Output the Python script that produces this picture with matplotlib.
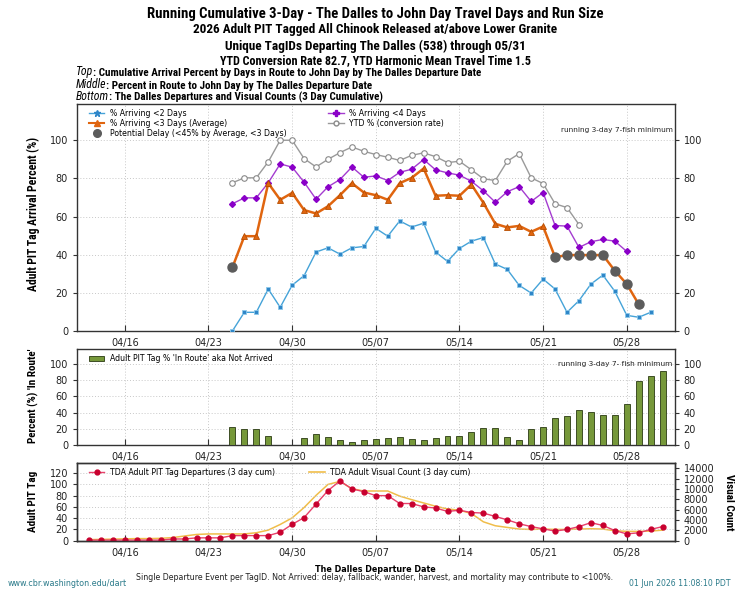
import os
import matplotlib
matplotlib.use('Agg')
import matplotlib.pyplot as plt
from matplotlib import font_manager
from matplotlib.font_manager import FontProperties
from matplotlib.lines import Line2D
from matplotlib.patches import Patch
import numpy as np
import pandas as pd

# ---------------- data ----------------
top_start = '2026-04-25'
pct_lt2 = [0, 9.8, 9.8, 22, 12.4, 24, 29, 41.4, 43.6, 40.3, 43.6, 44.3, 53.8, 49.7, 57.7,
           54.5, 56.5, 41.4, 36.5, 43.3, 47.1, 49, 35.1, 32.3, 23.9, 19.9, 27.2, 22, 9.8,
           15.9, 24.6, 29.3, 20.8, 8.2, 7.2, 9.8]
pct_lt3 = [33.3, 49.7, 49.7, 77.5, 68.8, 72.4, 63.4, 61.6, 65.4, 71.2, 77.5, 72.6, 71.2, 68.8, 77.5,
           80.3, 85.2, 70.9, 71.2, 70.9, 76.8, 67.2, 56.2, 54.3, 55.1, 52, 54.8, 38.7, 39.8,
           39.8, 39.8, 39.8, 31.6, 24.6, 14]
pct_lt4 = [66.7, 69.8, 69.8, 77.7, 87.6, 85.9, 78, 69.1, 75.6, 79.4, 86, 80.6, 81.3, 78.9, 83.2,
           84.8, 89.9, 84.5, 82.9, 81.7, 78.5, 73.5, 67.5, 73, 75.7, 67.9, 72.6, 55.3, 55,
           43.8, 46.8, 48, 47.1, 41.7]
ytd_pct = [77.7, 80.3, 80.3, 88.7, 100, 100, 90.4, 86, 90, 93.5, 96.5, 94.2, 92.5, 91.1, 89.4,
           92.1, 93.4, 91.4, 88.3, 89, 84.5, 79.8, 78.9, 89, 93, 80.3, 77.3, 66.7, 64.7, 55.8]
delay_threshold = 45

inroute_start = '2026-04-25'
inroute_pct = [21.8, 19.3, 19.3, 11.1, 0, 0, 9, 13.6, 10.3, 6.6, 3.3, 5.8, 7.4, 8.2, 10.3,
               7.4, 6.6, 8.2, 11.1, 11.1, 15.6, 20.6, 20.6, 10.3, 6.6, 19.8, 22.2, 33.3, 35.4,
               43.6, 41.2, 37, 37, 50.2, 79, 85.2, 91.8]

bottom_start = '2026-04-13'
pit_departures = [1, 1, 1, 1, 1, 1, 1, 3, 3, 5, 5, 5, 9, 9, 9, 9, 15, 29,
                  41, 65, 89, 106, 92, 87, 80, 80, 66, 66, 60, 58, 52, 54, 50, 49, 43, 37,
                  30, 25, 21, 17, 20, 25, 32, 27, 18, 12, 14, 20, 25]
visual_count = [200, 250, 300, 350, 400, 400, 450, 600, 900, 1200, 1300, 1300, 1300, 1300,
                1530, 2040, 3130, 4400,
                6400, 8750, 10860, 11440, 10030, 9590, 9590, 9590, 8600, 7920, 7280, 6650,
                6130, 5880, 5240, 3640, 2880, 2560, 2240, 2170, 2240, 2170, 2170, 2240, 2300,
                2240, 1920, 1790, 1790, 1850, 2040]

xtick_labels = ['04/16', '04/23', '04/30', '05/07', '05/14', '05/21', '05/28']
year = 2026
x_range = ('2026-04-12', '2026-06-01')

# ---------------- fonts ----------------
plt.rcParams['font.family'] = ['DejaVu Sans']
_files = set(f.fname for f in font_manager.fontManager.ttflist)
try:
    _files |= set(font_manager.findSystemFonts())
except Exception:
    pass
_prefs = ['opensans', 'liberationsansnarrow', 'roboto', 'notosans', 'dejavu']

def _pick(kind):
    best = None
    for fn in _files:
        b = os.path.basename(fn).lower().replace(' ', '').replace('_', '').replace('-', '')
        if not ('condensed' in b or 'narrow' in b):
            continue
        if any(k in b for k in ('semicondensed', 'extracondensed', 'ultracondensed')):
            continue
        if not b.endswith(('.ttf', '.otf')):
            continue
        if kind == 'bold':
            if 'bold' not in b or any(k in b for k in ('semibold', 'extrabold', 'italic',
                                                       'oblique', 'light', 'ultrabold')):
                continue
        else:
            if not ('italic' in b or 'oblique' in b) or any(
                    k in b for k in ('bold', 'light', 'medium', 'semi', 'extra', 'thin', 'black')):
                continue
        rank = next((i for i, p in enumerate(_prefs) if b.startswith(p)), 99)
        if best is None or rank < best[0]:
            best = (rank, fn)
    return best[1] if best else None

_bold_f = _pick('bold')
_ital_f = _pick('italic')

def NB(size):
    if _bold_f:
        return dict(fontproperties=FontProperties(fname=_bold_f, size=size))
    return dict(fontsize=size, fontweight='bold', stretch='condensed')

def NI(size):
    if _ital_f:
        return dict(fontproperties=FontProperties(fname=_ital_f, size=size))
    return dict(fontsize=size, style='italic', stretch='condensed')

def dates_from(start, n):
    return pd.date_range(start, periods=n, freq='D')

xticks = [pd.Timestamp(f'{year}-{s[:2]}-{s[3:]}') for s in xtick_labels]
xlim = [pd.Timestamp(x_range[0]), pd.Timestamp(x_range[1])]

fig = plt.figure(figsize=(7.35, 5.9), dpi=100)
L, W = 0.1048, 0.813
ax1 = fig.add_axes([L, 0.439, W, 0.3847])
ax2 = fig.add_axes([L, 0.2458, W, 0.1622])
ax3 = fig.add_axes([L, 0.0836, W, 0.1317])
ax3r = ax3.twinx()

TICKFS = 7
for ax in (ax1, ax2, ax3, ax3r):
    for s in ax.spines.values():
        s.set_color('#333333')
        s.set_linewidth(1.0)
for ax in (ax1, ax2, ax3):
    ax.set_xlim(xlim)
    ax.set_xticks(xticks)
    ax.set_xticklabels(xtick_labels, fontsize=TICKFS, color='#222222')
    ax.tick_params(axis='x', direction='in', length=4, color='#333333', pad=5)
    ax.tick_params(axis='y', direction='out', length=3, color='#333333', labelsize=TICKFS,
                   labelcolor='#222222')
    ax.grid(True, ls=(0, (1, 2)), color='#c8c8c8', lw=0.7)
    ax.set_axisbelow(True)
for ax in (ax1, ax2):
    ax.tick_params(axis='y', right=True, labelright=True)

# ---------------- top panel ----------------
d2 = dates_from(top_start, len(pct_lt2))
d3 = dates_from(top_start, len(pct_lt3))
d4 = dates_from(top_start, len(pct_lt4))
dy = dates_from(top_start, len(ytd_pct))
lt3 = np.array(pct_lt3)
mask = lt3 < delay_threshold

ax1.plot(dy, ytd_pct, color='#9a9a9a', lw=1.0, marker='o', ms=4, mfc='white', mec='#8a8a8a',
         mew=0.8, zorder=3)
ax1.plot(d4, pct_lt4, color='#a43cd0', lw=1.0, marker='D', ms=3, mfc='#8a00c8', mec='#8a00c8',
         zorder=4)
ax1.plot(d3, pct_lt3, color='#e0650f', lw=1.8, marker='^', ms=4.5, mfc='#e0650f', mec='#b84e00',
         mew=0.6, zorder=5)
ax1.plot(d2, pct_lt2, color='#45a3d8', lw=1.0, marker='s', ms=3, mfc='#2f86c8', mec='#8cc8ea',
         mew=0.6, zorder=6)
ax1.plot(d3[mask], lt3[mask], ls='none', marker='o', ms=6.5, color='#5c5c5c', zorder=7)
ax1.set_ylim(0, 119)
ax1.set_yticks([0, 20, 40, 60, 80, 100])

h = [Line2D([], [], color='#45a3d8', lw=1, marker='*', ms=5, mfc='#2f86c8', mec='#2f86c8'),
     Line2D([], [], color='#e0650f', lw=1.5, marker='^', ms=4.5),
     Line2D([], [], ls='none', marker='o', ms=5.5, color='#5c5c5c'),
     Line2D([], [], color='#a43cd0', lw=1, marker='P', ms=4, mfc='#8a00c8', mec='#8a00c8'),
     Line2D([], [], color='#9a9a9a', lw=1, marker='o', ms=3.5, mfc='white', mec='#8a8a8a')]
lab = ['% Arriving <2 Days', '% Arriving <3 Days (Average)',
       'Potential Delay (<45% by Average, <3 Days)', '% Arriving <4 Days',
       'YTD % (conversion rate)']
ax1.legend(h, lab, loc='upper left', bbox_to_anchor=(0.012, 1.0), ncol=2, frameon=False,
           fontsize=5.6, handlelength=2.0, handletextpad=0.7, columnspacing=5.4,
           labelspacing=0.15, borderaxespad=0.2)
ax1.text(0.997, 0.885, 'running 3-day 7-fish minimum', transform=ax1.transAxes, ha='right',
         va='center', fontsize=5.3, color='#222222')

# ---------------- middle panel ----------------
dr = dates_from(inroute_start, len(inroute_pct))
ax2.bar(dr, inroute_pct, width=0.5, color='#76983a', edgecolor='#2a3a12', lw=0.6, zorder=3)
ax2.set_ylim(0, 118)
ax2.set_yticks([0, 20, 40, 60, 80, 100])
ax2.legend([Patch(facecolor='#76983a', edgecolor='#2a3a12', lw=0.6)],
           ["Adult PIT Tag % 'In Route' aka Not Arrived"], loc='upper left',
           bbox_to_anchor=(0.012, 1.0), frameon=False, fontsize=5.6, handlelength=2.0,
           handleheight=0.7, handletextpad=0.7, borderaxespad=0.2)
ax2.text(0.997, 0.85, 'running 3-day 7- fish minimum', transform=ax2.transAxes, ha='right',
         va='center', fontsize=5.3, color='#222222')

# ---------------- bottom panel ----------------
db = dates_from(bottom_start, len(pit_departures))
dv = dates_from(bottom_start, len(visual_count))
ax3r.plot(dv, visual_count, color='#f0bd4a', lw=1.1)
ax3.plot(db, pit_departures, color='#e8406a', lw=1.0, marker='o', ms=3.5, mfc='#c8002e',
         mec='#c8002e')
ax3.set_zorder(ax3r.get_zorder() + 1)
ax3.patch.set_visible(False)
ax3.set_ylim(0, 138)
ax3.set_yticks([0, 20, 40, 60, 80, 100, 120])
ax3r.set_ylim(0, 15000)
ax3r.set_yticks(range(0, 14001, 2000))
ax3r.tick_params(axis='y', direction='out', length=3, color='#333333', labelsize=TICKFS,
                 labelcolor='#222222')
ax3.legend([Line2D([], [], color='#e8406a', lw=1, marker='o', ms=3.5, mfc='#c8002e', mec='#c8002e'),
            Line2D([], [], color='#f0bd4a', lw=1.2)],
           ['TDA Adult PIT Tag Departures (3 day cum)', 'TDA Adult Visual Count (3 day cum)'],
           loc='upper left', bbox_to_anchor=(0.012, 1.0), ncol=2, frameon=False, fontsize=5.6,
           handlelength=2.0, handletextpad=0.7, columnspacing=4.4, borderaxespad=0.2)

# ---------------- labels ----------------
fig.text(33 / 735, 1 - 214 / 590, 'Adult PIT Tag Arrival Percent (%)', rotation=90, ha='center',
         va='center', **NB(8.4))
fig.text(33 / 735, 1 - 396 / 590, "Percent (%) 'In Route'", rotation=90, ha='center',
         va='center', **NB(8))
fig.text(33 / 735, 1 - 501 / 590, 'Adult PIT Tag', rotation=90, ha='center',
         va='center', **NB(8))
fig.text(729 / 735, 1 - 502 / 590, 'Visual Count', rotation=270, ha='center',
         va='center', **NB(8))

# ---------------- titles ----------------
cx = 375 / 735
fig.text(cx, 1 - 14 / 590, 'Running Cumulative 3-Day - The Dalles to John Day Travel Days and Run Size',
         ha='center', va='center', **NB(10.6))
fig.text(cx, 1 - 30 / 590, '2026 Adult PIT Tagged All Chinook Released at/above Lower Granite',
         ha='center', va='center', **NB(9.5))
fig.text(cx, 1 - 46 / 590, 'Unique TagIDs Departing The Dalles (538) through 05/31',
         ha='center', va='center', **NB(9.5))
fig.text(cx, 1 - 61 / 590, 'YTD Conversion Rate 82.7, YTD Harmonic Mean Travel Time 1.5',
         ha='center', va='center', **NB(8.7))

for ypx, a, b in [(78, 'Top', ': Cumulative Arrival Percent by Days in Route to John Day by The Dalles Departure Date'),
                  (91, 'Middle', ': Percent in Route to John Day by The Dalles Departure Date'),
                  (103, 'Bottom', ': The Dalles Departures and Visual Counts (3 Day Cumulative)')]:
    t = fig.text(76 / 735, 1 - ypx / 590, a, ha='left', va='bottom', **NI(8.5))
    ax1.annotate(b, xy=(1, 0), xycoords=t, ha='left', va='bottom', **NB(8))

# ---------------- footer ----------------
fig.text(375 / 735, 1 - 570 / 590, 'The Dalles Departure Date', ha='center', va='center',
         fontsize=5.8, fontweight='bold')
fig.text(375 / 735, 1 - 578 / 590,
         'Single Departure Event per TagID. Not Arrived: delay, fallback, wander, harvest, and mortality may contribute to <100%.',
         ha='center', va='center', fontsize=5.7, color='#222222')
fig.text(8 / 735, 1 - 583 / 590, 'www.cbr.washington.edu/dart', ha='left', va='center',
         fontsize=5.8, color='#2a7a8a')
fig.text(731 / 735, 1 - 583 / 590, '01 Jun 2026 11:08:10 PDT', ha='right', va='center',
         fontsize=5.6, color='#2a7a8a')

fig.savefig('out.png', dpi=100)
